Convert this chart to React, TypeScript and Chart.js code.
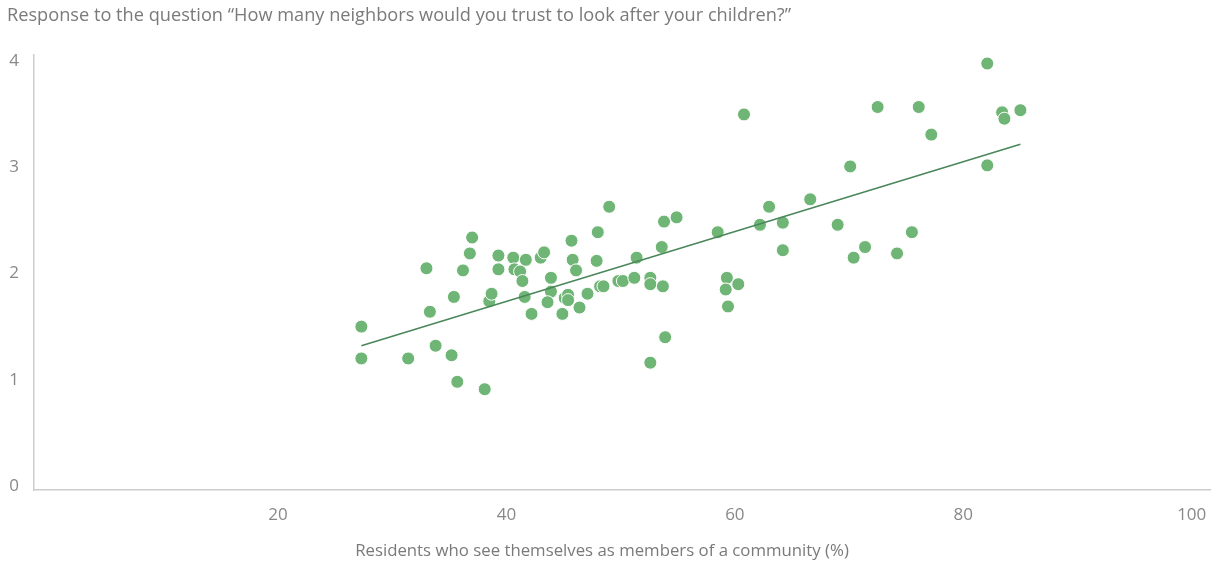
import React, { useEffect, useRef } from "react";
import { Chart, registerables } from "chart.js";

Chart.register(...registerables);

const titleText =
  "Response to the question \u201cHow many neighbors would you trust to look after your children?\u201d";
const xAxisTitle = "Residents who see themselves as members of a community (%)";

const xTicks = [20, 40, 60, 80, 100];
const yTicks = [0, 1, 2, 3, 4];

// Residents who see themselves as members of a community (%)
const communityPct = [
  27.3, 27.3, 31.4, 33.0, 33.3, 33.8, 35.2, 35.7, 35.4, 36.2,
  36.8, 37.0, 38.1, 38.5, 38.7, 39.3, 39.3, 40.6, 40.7, 41.2,
  41.4, 41.6, 41.7, 42.2, 43.0, 43.3, 43.9, 43.9, 43.6, 44.9,
  45.1, 45.4, 45.4, 45.7, 45.8, 46.1, 46.4, 47.1, 47.9, 48.0,
  48.2, 48.5, 49.0, 49.8, 50.2, 51.2, 51.4, 52.6, 52.6, 52.6,
  53.8, 53.6, 53.7, 53.9, 54.9, 58.5, 59.3, 59.2, 60.3, 59.4,
  60.8, 62.2, 63.0, 64.2, 64.2, 66.6, 69.0, 70.1, 70.4, 71.4,
  72.5, 74.2, 75.5, 76.1, 77.2, 82.1, 82.1, 83.4, 83.6, 85.0,
];

// Neighbours trusted to look after children
const neighborsTrusted = [
  1.5, 1.2, 1.2, 2.05, 1.64, 1.32, 1.23, 0.98, 1.78, 2.03,
  2.19, 2.34, 0.91, 1.74, 1.81, 2.17, 2.04, 2.15, 2.04, 2.02,
  1.93, 1.78, 2.13, 1.62, 2.15, 2.2, 1.96, 1.83, 1.73, 1.62,
  1.77, 1.8, 1.75, 2.31, 2.13, 2.03, 1.68, 1.81, 2.12, 2.39,
  1.88, 1.88, 2.63, 1.93, 1.93, 1.96, 2.15, 1.96, 1.9, 1.16,
  2.49, 2.25, 1.88, 1.4, 2.53, 2.39, 1.96, 1.85, 1.9, 1.69,
  3.5, 2.46, 2.63, 2.48, 2.22, 2.7, 2.46, 3.01, 2.15, 2.25,
  3.57, 2.19, 2.39, 3.57, 3.31, 3.98, 3.02, 3.52, 3.46, 3.54,
];

// Trend line end points
const trendX = [27.3, 85.0];
const trendY = [1.32, 3.22];

const FONT = '"Open Sans", "Noto Sans", sans-serif';

const LAYOUT_LEFT = 7;
const LAYOUT_BOTTOM = 40;
const PLOT_LEFT = 34;
const PLOT_BOTTOM = 490;
const CANVAS_H = 563;

const axisTitlePlugin = {
  id: "bottomAxisTitle",
  afterDraw(chart: any) {
    const ctx = chart.ctx;
    ctx.save();
    ctx.font = `16.8px ${FONT}`;
    ctx.fillStyle = "#7a7a7a";
    ctx.textAlign = "center";
    ctx.textBaseline = "middle";
    ctx.fillText(xAxisTitle, 602, 551);
    ctx.restore();
  },
};

export default function App() {
  const canvasRef = useRef<HTMLCanvasElement | null>(null);

  useEffect(() => {
    if (!canvasRef.current) return;
    const points = communityPct.map((x, i) => ({ x, y: neighborsTrusted[i] }));
    const trend = trendX.map((x, i) => ({ x, y: trendY[i] }));

    const chart = new Chart(canvasRef.current, {
      type: "scatter",
      data: {
        datasets: [
          {
            type: "line",
            data: trend,
            borderColor: "#4a875a",
            borderWidth: 1.6,
            pointRadius: 0,
            fill: false,
            order: 0,
          } as any,
          {
            data: points,
            backgroundColor: "#6fb575",
            borderColor: "#ffffff",
            borderWidth: 1,
            pointRadius: 6.5,
            order: 1,
          },
        ],
      },
      plugins: [axisTitlePlugin],
      options: {
        animation: false,
        responsive: true,
        maintainAspectRatio: false,
        layout: { padding: { left: LAYOUT_LEFT, right: 12, top: 0, bottom: LAYOUT_BOTTOM } },
        plugins: {
          legend: { display: false },
          tooltip: { enabled: false },
          title: {
            display: true,
            text: titleText,
            align: "start",
            color: "#7a7a7a",
            font: { family: FONT, size: 18.2, weight: "normal" },
            padding: { top: 4.5, bottom: 28.7 },
          },
        },
        scales: {
          x: {
            type: "linear",
            min: -1.36,
            max: 101.6,
            afterBuildTicks: (axis: any) => {
              axis.ticks = xTicks.map((v) => ({ value: v }));
            },
            afterFit: (scale: any) => {
              scale.height = CANVAS_H - PLOT_BOTTOM - LAYOUT_BOTTOM;
            },
            grid: { display: false, drawTicks: false },
            border: { display: true, color: "#cccccc", width: 1.5 },
            ticks: {
              padding: 15,
              color: "#888888",
              font: { family: FONT, size: 17 },
            },
          },
          y: {
            type: "linear",
            min: -0.04,
            max: 4.06,
            afterBuildTicks: (axis: any) => {
              axis.ticks = yTicks.map((v) => ({ value: v }));
            },
            afterFit: (scale: any) => {
              scale.width = PLOT_LEFT - LAYOUT_LEFT;
            },
            grid: { display: false, drawTicks: false },
            border: { display: true, color: "#cccccc", width: 1.5 },
            ticks: {
              padding: 15,
              color: "#888888",
              font: { family: FONT, size: 17 },
            },
          },
        },
      },
    });
    return () => chart.destroy();
  }, []);

  return (
    <div style={{ position: "fixed", left: 0, top: 0, width: 1222, height: 563, background: "#fff" }}>
      <canvas ref={canvasRef} />
    </div>
  );
}
